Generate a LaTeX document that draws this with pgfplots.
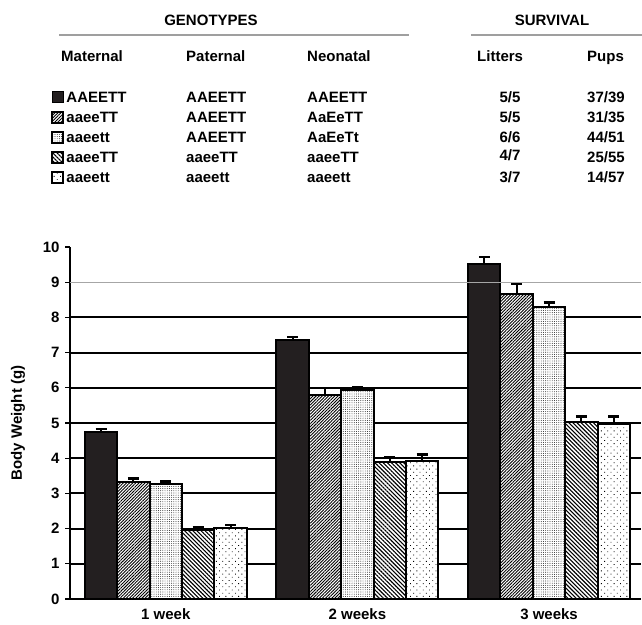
\documentclass[border=0pt]{standalone}
\usepackage{fontspec}
\setmainfont{Liberation Sans}
\usepackage{pgfplots}
\pgfplotsset{compat=1.18}
\usetikzlibrary{patterns.meta}
\definecolor{barblack}{HTML}{231F20}
\newcommand{\fs}{\fontsize{15bp}{17bp}\selectfont\bfseries}
\tikzset{
  sA/.style={fill=barblack, draw=black},
  sB/.style={draw=black, preaction={fill=white}, pattern={Lines[angle=45,distance=2.2bp,line width=0.9bp]}, pattern color=black},
  sC/.style={draw=black, preaction={fill=white}, pattern={Dots[distance=2.2bp,radius=0.45bp]}, pattern color=black},
  sD/.style={draw=black, preaction={fill=white}, pattern={Lines[angle=-45,distance=2.9bp,line width=1.1bp]}, pattern color=black},
  sE/.style={draw=black, preaction={fill=white}, pattern={Dots[distance=4.5bp,angle=45,radius=0.6bp]}, pattern color=black},
}
\pgfplotsset{
  myerr/.style={
    /pgfplots/error bars/y dir=plus,
    /pgfplots/error bars/y explicit,
    /pgfplots/error bars/error bar style={black, line width=2bp},
    /pgfplots/error bars/error mark options={rotate=90, mark size=5.5bp, line width=2.5bp, black},
  }
}
\begin{document}
\begin{tikzpicture}[x=1bp,y=1bp]
\path[use as bounding box] (0,0) rectangle (642,625);
\begin{scope}[every node/.style={font=\fs, inner sep=0pt}]
\node[anchor=center] at (211,605) {GENOTYPES};
\node[anchor=center] at (552,605) {SURVIVAL};
\draw[gray!75, line width=1.6bp] (59,590) -- (409,590);
\draw[gray!75, line width=1.6bp] (471,590) -- (642,590);
\node[anchor=base west] at (61,563.6) {Maternal};
\node[anchor=base west] at (186,563.6) {Paternal};
\node[anchor=base west] at (307,563.6) {Neonatal};
\node[anchor=base west] at (477,563.6) {Litters};
\node[anchor=base west] at (587,563.6) {Pups};
% Paternal column
\node[anchor=base west] at (186,522.6) {AAEETT};
\node[anchor=base west] at (186,502.6) {AAEETT};
\node[anchor=base west] at (186,482.6) {AAEETT};
\node[anchor=base west] at (186,462.6) {aaeeTT};
\node[anchor=base west] at (186,442.6) {aaeett};
% Neonatal column
\node[anchor=base west] at (307,522.6) {AAEETT};
\node[anchor=base west] at (307,502.6) {AaEeTT};
\node[anchor=base west] at (307,482.6) {AaEeTt};
\node[anchor=base west] at (307,462.6) {aaeeTT};
\node[anchor=base west] at (307,442.6) {aaeett};
% Litters
\node[anchor=base] at (510,522.6) {5/5};
\node[anchor=base] at (510,502.6) {5/5};
\node[anchor=base] at (510,482.6) {6/6};
\node[anchor=base] at (510,464.6) {4/7};
\node[anchor=base] at (510,442.6) {3/7};
% Pups
\node[anchor=base west] at (587,522.6) {37/39};
\node[anchor=base west] at (587,502.6) {31/35};
\node[anchor=base west] at (587,482.6) {44/51};
\node[anchor=base west] at (587,462.6) {25/55};
\node[anchor=base west] at (587,442.6) {14/57};
\end{scope}
\begin{axis}[
  at={(70bp,26bp)}, anchor=south west,
  scale only axis, width=571bp, height=352bp,
  xmin=-0.5, xmax=2.48, ymin=0, ymax=10,
  axis x line=bottom, axis y line=left,
  axis line style={-, black, line width=1.3bp},
  xtick={0,1,2}, xticklabels={1 week,2 weeks,3 weeks},
  x tick style={draw=none},
  xticklabel style={font=\fs, yshift=-1bp},
  ytick={0,...,8}, extra y ticks={9,10},
  extra y tick style={grid=none},
  /pgf/number format/assume math mode=true,
  yticklabel style={font=\fs, xshift=-2bp},
  tick align=outside, major tick length=5bp,
  y tick style={black, line width=1.2bp},
  ymajorgrids, major grid style={black, line width=1.9bp},
  ylabel={Body Weight (g)},
  ylabel style={font=\fs, at={(axis description cs:-0.091,0.5)}, anchor=center},
  bar width=0.169, ybar, bar shift=0pt,
  legend style={at={(axis description cs:-0.032,1.4435)}, anchor=north west,
    draw=none, fill=none, inner sep=0pt, font=\fs, row sep=8bp, column sep=2.5bp,
    nodes={inner sep=0pt, text height=11.5bp, text depth=0.5bp, anchor=base west}},
  legend cell align=left,
  legend image code/.code={\draw[#1, line width=1bp] (0bp,0bp) rectangle (11bp,11bp);},
]
\addplot[sA, line width=2bp, myerr] coordinates {(-0.338,4.75) +- (0,0.08) (0.662,7.37) +- (0,0.07) (1.662,9.52) +- (0,0.20)};
\addlegendentry{AAEETT}
\addplot[sB, line width=2bp, myerr] coordinates {(-0.169,3.33) +- (0,0.10) (0.831,5.80) +- (0,0.20) (1.831,8.67) +- (0,0.28)};
\addlegendentry{aaeeTT}
\addplot[sC, line width=2bp, myerr] coordinates {(0,3.27) +- (0,0.07) (1,5.95) +- (0,0.07) (2,8.29) +- (0,0.14)};
\addlegendentry{aaeett}
\addplot[sD, line width=2bp, myerr] coordinates {(0.169,1.97) +- (0,0.06) (1.169,3.89) +- (0,0.14) (2.169,5.02) +- (0,0.16)};
\addlegendentry{aaeeTT}
\addplot[sE, line width=2bp, myerr] coordinates {(0.338,2.02) +- (0,0.08) (1.338,3.91) +- (0,0.19) (2.338,4.97) +- (0,0.21)};
\addlegendentry{aaeett}
\draw[gray!70, line width=0.8bp] (axis cs:-0.5,9) -- (axis cs:2.48,9);
\end{axis}
\end{tikzpicture}
\end{document}
